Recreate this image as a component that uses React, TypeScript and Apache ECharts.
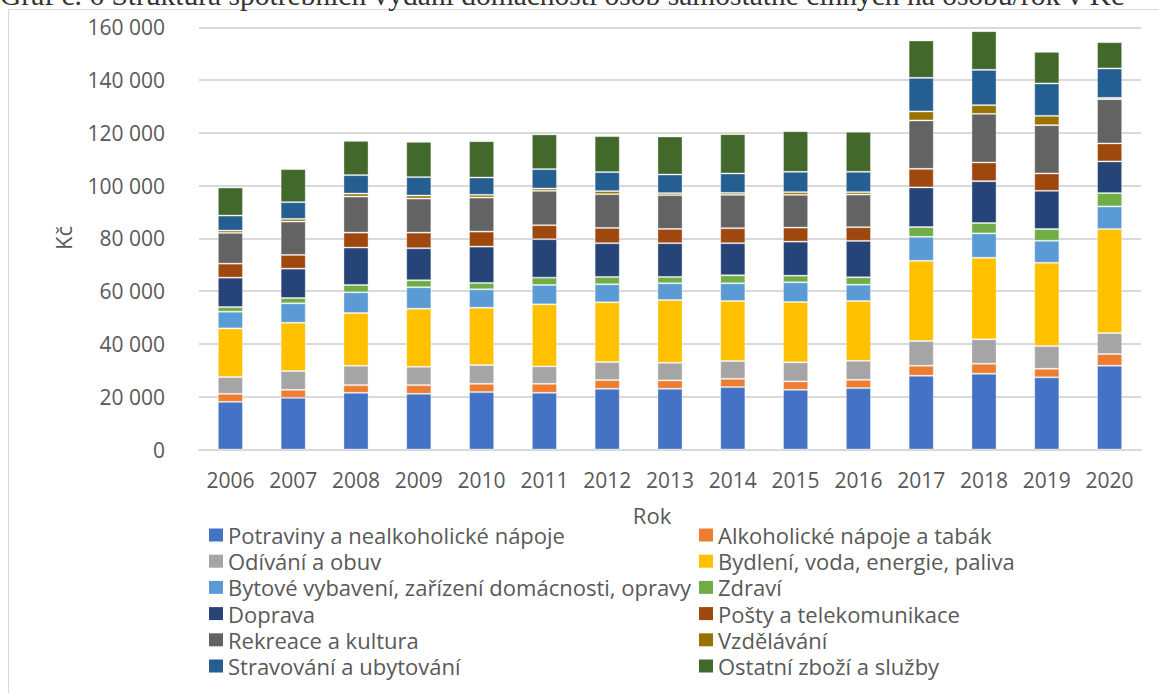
import React, { useEffect, useRef } from "react";
import * as echarts from "echarts";

const years = ["2006", "2007", "2008", "2009", "2010", "2011", "2012", "2013", "2014", "2015", "2016", "2017", "2018", "2019", "2020"];

const potraviny = [18060, 19580, 21480, 21100, 21750, 21480, 23000, 23000, 23640, 22620, 23260, 27960, 28710, 27350, 31750];
const alkohol = [3040, 3040, 2920, 3300, 3150, 3420, 3300, 3190, 3150, 3190, 3150, 3790, 3790, 3260, 4430];
const odivani = [6340, 7100, 7330, 6950, 7090, 6600, 6830, 6670, 6720, 7210, 7210, 9350, 9240, 8590, 7950];
const bydleni = [18460, 18320, 20000, 22010, 21750, 23520, 22660, 23800, 22770, 22880, 22660, 30420, 30910, 31560, 39400];
const bytove = [6320, 7360, 7850, 8120, 6980, 7330, 6830, 6340, 6720, 7480, 6180, 9090, 9250, 8340, 8590];
const zdravi = [1780, 2020, 2770, 2660, 2390, 2780, 2770, 2390, 3030, 2500, 2810, 3670, 3900, 4430, 5040];
const doprava = [11130, 11120, 14160, 12140, 13780, 14570, 12790, 12790, 12150, 12900, 13780, 15040, 15900, 14500, 12010];
const posty = [5310, 5200, 5690, 5920, 5690, 5300, 5800, 5420, 5690, 5320, 5200, 7050, 7090, 6590, 6820];
const rekreace = [11650, 12650, 13660, 12900, 12900, 13030, 12790, 12790, 12640, 12410, 12370, 18330, 18410, 18300, 16780];
const vzdelavani = [880, 1010, 1140, 1140, 1030, 870, 1140, 760, 760, 1020, 910, 3410, 3300, 3520, 490];
const stravovani = [5690, 6330, 6980, 6980, 6560, 7360, 7210, 7060, 7320, 7710, 7710, 12730, 13370, 12280, 11140];
const ostatni = [10620, 12530, 12990, 13380, 13790, 13140, 13630, 14430, 14920, 15410, 15140, 14160, 14660, 11970, 9960];

const seriesNames = [
  "Potraviny a nealkoholické nápoje",
  "Alkoholické nápoje a tabák",
  "Odívání a obuv",
  "Bydlení, voda, energie, paliva",
  "Bytové vybavení, zařízení domácnosti, opravy",
  "Zdraví",
  "Doprava",
  "Pošty a telekomunikace",
  "Rekreace a kultura",
  "Vzdělávání",
  "Stravování a ubytování",
  "Ostatní zboží a služby",
];

const seriesColors = [
  "#4472C4", "#ED7D31", "#A5A5A5", "#FFC000", "#5B9BD5", "#70AD47",
  "#264478", "#9E480E", "#636363", "#997300", "#255E91", "#43682B",
];

const yTicks = { min: 0, max: 160000, interval: 20000 };

const chartTitle = "Graf č. 6 Struktura spotřebních vydání domácností osob samostatně činných na osobu/rok v Kč";
const xAxisTitle = "Rok";
const yAxisTitle = "Kč";

const FONT = "'Open Sans', 'Noto Sans', sans-serif";

export default function App() {
  const ref = useRef<HTMLDivElement>(null);
  useEffect(() => {
    if (!ref.current) return;
    const chart = echarts.init(ref.current, null, { renderer: "svg" });
    const valueSets = [potraviny, alkohol, odivani, bydleni, bytove, zdravi, doprava, posty, rekreace, vzdelavani, stravovani, ostatni];
    const legendBase = {
      orient: "vertical",
      top: 524,
      padding: 0,
      itemWidth: 14,
      itemHeight: 13,
      itemGap: 4.2,
      itemTextGap: 6,
      icon: "rect",
      selectedMode: false,
      itemStyle: { borderWidth: 0 },
      textStyle: { fontFamily: FONT, fontSize: 22, color: "#595959", lineHeight: 22 },
    };
    const option = {
      animation: false,
      backgroundColor: "#ffffff",
      textStyle: { fontFamily: FONT },
      grid: { left: 199, right: 18, top: 27.3, bottom: 693 - 449.5, containLabel: false },
      xAxis: {
        type: "category",
        data: years,
        axisLine: { lineStyle: { color: "#d9d9d9", width: 2 } },
        axisTick: { show: false },
        axisLabel: { color: "#595959", fontSize: 21, margin: 20, fontFamily: FONT },
      },
      yAxis: {
        type: "value",
        min: yTicks.min,
        max: yTicks.max,
        interval: yTicks.interval,
        axisLine: { show: false },
        axisTick: { show: false },
        splitLine: { lineStyle: { color: "#d9d9d9", width: 2 } },
        axisLabel: {
          color: "#595959",
          fontSize: 21,
          margin: 34,
          fontFamily: FONT,
          formatter: (v: number) =>
            v === 0 ? "0" : `${Math.floor(v / 1000)} ${String(v % 1000).padStart(3, "0")}`,
        },
      },
      legend: [
        { ...legendBase, left: 209, data: seriesNames.filter((_, i) => i % 2 === 0) },
        { ...legendBase, left: 699, data: seriesNames.filter((_, i) => i % 2 === 1) },
      ],
      series: seriesNames.map((name, i) => ({
        name,
        type: "bar",
        stack: "total",
        data: valueSets[i],
        barWidth: "40%",
        itemStyle: { color: seriesColors[i], borderColor: "rgba(255,255,255,0.35)", borderWidth: 1 },
      })),
      graphic: [
        {
          type: "rect",
          silent: true,
          z: -10,
          shape: { x: 8.5, y: 9.5, width: 1200, height: 700 },
          style: { fill: "none", stroke: "#d9d9d9", lineWidth: 1 },
        },
        {
          type: "text",
          x: 0,
          y: -5.3,
          style: {
            text: chartTitle,
            fontFamily: "'Liberation Serif', 'Times New Roman', serif",
            fontSize: 29.5,
            fill: "#333333",
            textAlign: "left",
            textVerticalAlign: "middle",
          },
        },
        {
          type: "text",
          x: 652,
          y: 515,
          style: {
            text: xAxisTitle,
            fontFamily: FONT,
            fontSize: 22,
            fill: "#595959",
            textAlign: "center",
            textVerticalAlign: "middle",
          },
        },
        {
          type: "text",
          x: 63,
          y: 238,
          rotation: Math.PI / 2,
          style: {
            text: yAxisTitle,
            fontFamily: FONT,
            fontSize: 22,
            fill: "#595959",
            textAlign: "center",
            textVerticalAlign: "middle",
          },
        },
      ],
    };
    chart.setOption(option as any);
    return () => chart.dispose();
  }, []);
  return (
    <div
      ref={ref}
      style={{ position: "fixed", left: 0, top: 0, width: 1159, height: 693 }}
    />
  );
}
